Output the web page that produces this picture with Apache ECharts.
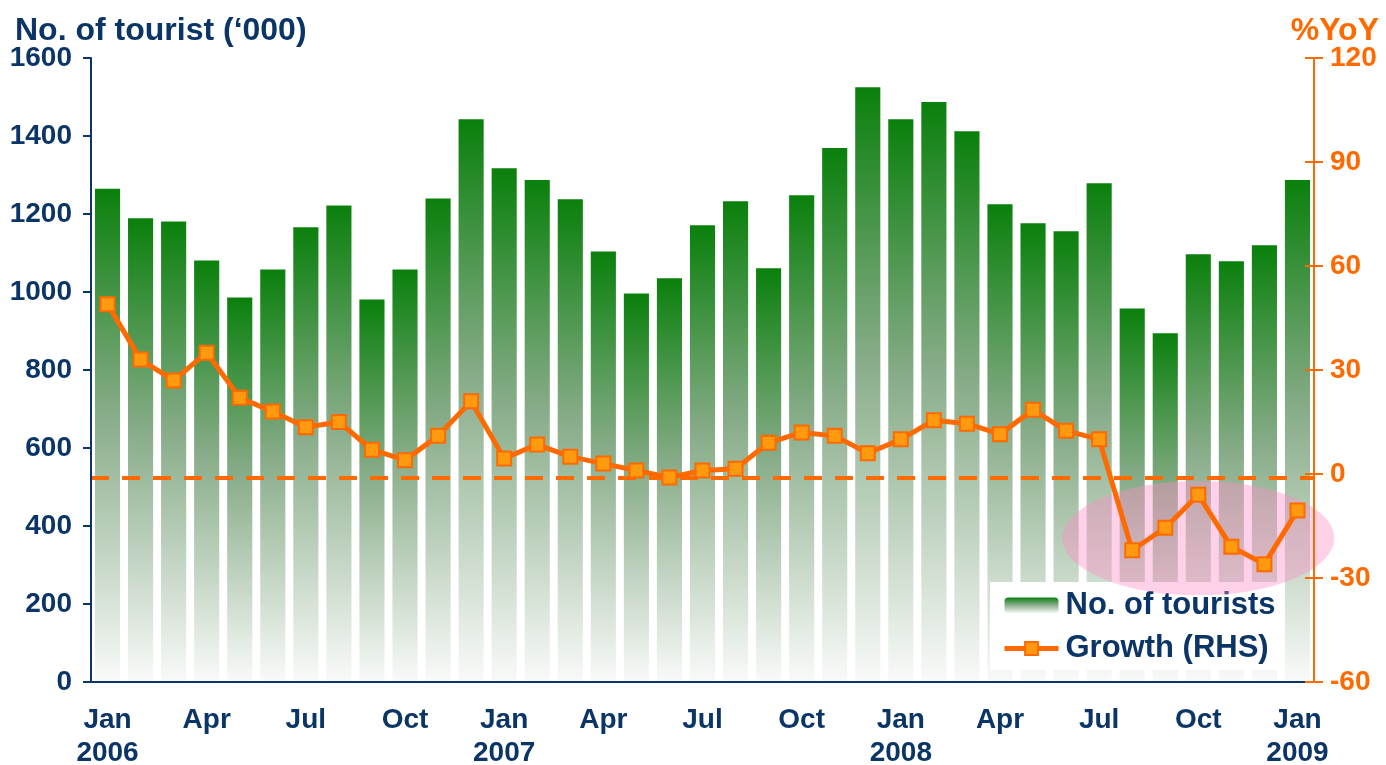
<!DOCTYPE html>
<html>
<head>
<meta charset="utf-8">
<script src="https://cdn.jsdelivr.net/npm/echarts@6/dist/echarts.min.js"></script>
<style>
  html, body { margin: 0; padding: 0; background: #fff; }
</style>
</head>
<body>
<div id="main" style="width: 1386px;height:765px;"></div>

<script type="text/javascript">
// months Jan 2006 .. Jan 2009
var months = [
  'Jan 2006','Feb 2006','Mar 2006','Apr 2006','May 2006','Jun 2006','Jul 2006','Aug 2006','Sep 2006','Oct 2006','Nov 2006','Dec 2006',
  'Jan 2007','Feb 2007','Mar 2007','Apr 2007','May 2007','Jun 2007','Jul 2007','Aug 2007','Sep 2007','Oct 2007','Nov 2007','Dec 2007',
  'Jan 2008','Feb 2008','Mar 2008','Apr 2008','May 2008','Jun 2008','Jul 2008','Aug 2008','Sep 2008','Oct 2008','Nov 2008','Dec 2008',
  'Jan 2009'
];
// number of tourists ('000)
var tourists = [
  1265, 1189, 1181, 1081, 986, 1058, 1166, 1222, 981, 1058, 1240, 1443,
  1317, 1287, 1238, 1104, 996, 1035, 1171, 1233, 1061, 1248, 1369, 1525,
  1443, 1487, 1412, 1225, 1176, 1156, 1279, 958, 894, 1097, 1079, 1120,
  1287
];
// growth, %YoY
var growth = [
  49, 33, 27, 35, 22, 18, 13.5, 15, 7, 4, 11, 21,
  4.5, 8.5, 5, 3, 1, -1, 1, 1.5, 9, 12, 11, 6,
  10, 15.5, 14.5, 11.5, 18.5, 12.5, 10, -22, -15.5, -6, -21, -26,
  -10.5
];
var leftTicks = { min: 0, max: 1600, interval: 200 };
var rightTicks = { min: -60, max: 120, interval: 30 };

var navy = '#0b3566';
var orange = '#ff6a00';
var font = 'Liberation Sans';

var myChart = echarts.init(document.getElementById('main'));

function plain(v) { return String(v); }

var option = {
  animation: false,
  textStyle: { fontFamily: font },
  title: [
    {
      text: 'No. of tourist (\u2018000)',
      left: 10, top: 10,
      textStyle: { color: navy, fontSize: 32, fontWeight: 'bold', fontFamily: font }
    },
    {
      text: '%YoY',
      right: 2, top: 10,
      textStyle: { color: orange, fontSize: 32, fontWeight: 'bold', fontFamily: font }
    }
  ],
  grid: { left: 91, right: 72, top: 58, bottom: 83, outerBoundsMode: 'none', containLabel: false },
  legend: {
    orient: 'vertical',
    left: 990, top: 582,
    padding: [8, 8, 6, 12],
    itemGap: 12,
    itemWidth: 54,
    itemHeight: 16,
    backgroundColor: '#ffffff',
    lineStyle: { width: 5 },
    textStyle: { color: navy, fontSize: 31, fontWeight: 'bold', fontFamily: font, padding: [0, 0, 0, 2] },
    data: ['No. of tourists', 'Growth (RHS)']
  },
  xAxis: {
    type: 'category',
    data: months,
    boundaryGap: true,
    z: 6,
    axisLine: { lineStyle: { color: navy, width: 2 } },
    axisTick: { interval: 2, length: 9, lineStyle: { color: navy, width: 2 } },
    axisLabel: {
      interval: 2,
      margin: 22,
      color: navy,
      fontSize: 28,
      fontWeight: 'bold',
      lineHeight: 33,
      formatter: function (v) {
        var p = v.split(' ');
        return p[0] === 'Jan' ? p[0] + '\n' + p[1] : p[0];
      }
    },
    splitLine: { show: false }
  },
  yAxis: [
    {
      type: 'value',
      min: leftTicks.min, max: leftTicks.max, interval: leftTicks.interval,
      z: 6,
      axisLine: { show: true, lineStyle: { color: navy, width: 2 } },
      axisTick: { show: true, length: 8, lineStyle: { color: navy, width: 2 } },
      axisLabel: { margin: 19, color: navy, fontSize: 28, fontWeight: 'bold', formatter: plain },
      splitLine: { show: false }
    },
    {
      type: 'value',
      position: 'right',
      min: rightTicks.min, max: rightTicks.max, interval: rightTicks.interval,
      z: 6,
      axisLine: { show: true, lineStyle: { color: orange, width: 2 } },
      axisTick: { show: true, length: 9, lineStyle: { color: orange, width: 2 } },
      axisLabel: { margin: 16, color: orange, fontSize: 28, fontWeight: 'bold', formatter: plain },
      splitLine: { show: false }
    },
    {
      // inner half of the crossing ticks on the right axis
      type: 'value',
      position: 'right',
      min: rightTicks.min, max: rightTicks.max, interval: rightTicks.interval,
      z: 6,
      axisLine: { show: false },
      axisTick: { show: true, inside: true, length: 9, lineStyle: { color: orange, width: 2 } },
      axisLabel: { show: false },
      splitLine: { show: false }
    }
  ],
  series: [
    {
      name: 'No. of tourists',
      type: 'bar',
      data: tourists,
      barCategoryGap: '24%',
      z: 2,
      itemStyle: {
        color: new echarts.graphic.LinearGradient(0, 0, 0, 1, [
          { offset: 0, color: '#0a800c' },
          { offset: 0.45, color: '#86ab87' },
          { offset: 1, color: '#f9faf9' }
        ])
      }
    },
    {
      name: 'Growth (RHS)',
      type: 'line',
      yAxisIndex: 1,
      data: growth,
      z: 10,
      symbol: 'rect',
      symbolSize: 14,
      lineStyle: { color: orange, width: 5 },
      itemStyle: { color: '#ff9a10', borderColor: orange, borderWidth: 2 },
      markLine: {
        silent: true,
        symbol: 'none',
        label: { show: false },
        lineStyle: { color: orange, width: 4, type: [18, 13] },
        data: [{ yAxis: -1 }]
      }
    }
  ]
};

myChart.setOption(option);

// pink highlight round the late-2008 dip
var c = myChart.convertToPixel({ seriesIndex: 1 }, [33, -18.5]);
myChart.setOption({
  graphic: [{
    type: 'circle',
    x: c[0], y: c[1],
    scaleY: 0.42,
    shape: { cx: 0, cy: 0, r: 136 },
    z: 5,
    silent: true,
    style: { fill: 'rgba(255,140,200,0.4)' }
  }]
});
</script>
</body>
</html>
